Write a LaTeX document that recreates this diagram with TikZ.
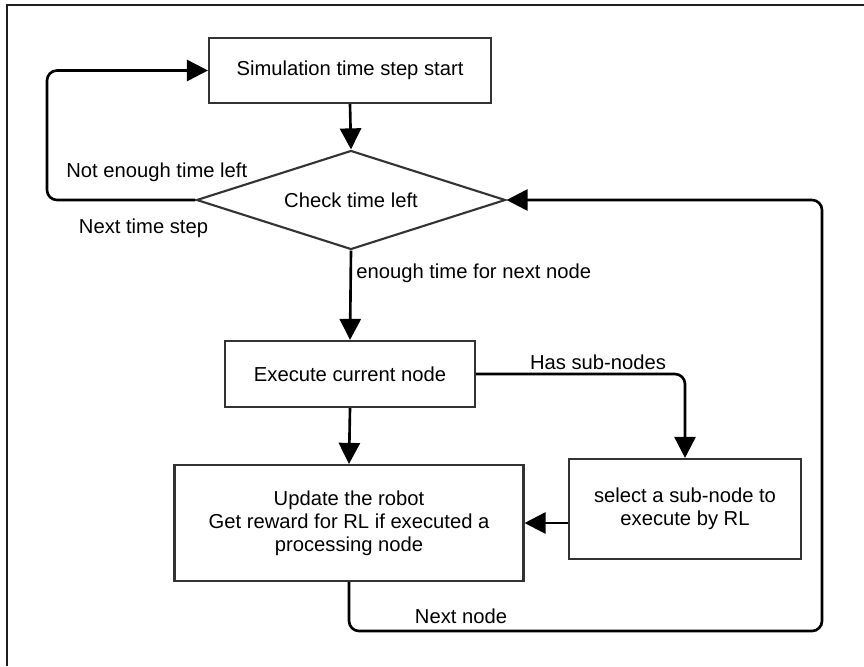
\documentclass[tikz,border=0pt]{standalone}
\usepackage{fontspec}
\setmainfont{Liberation Sans}
\usepackage{tikz}
\usetikzlibrary{shapes.geometric, arrows.meta}
\definecolor{boxgray}{RGB}{51, 51, 51}
\definecolor{framegray}{RGB}{30, 30, 30}
\tikzset{
  stepbox/.style={draw=boxgray, line width=1.2pt, align=center,
                  inner sep=2pt, font=\fontsize{11.5}{13}\selectfont},
  checkbox/.style={diamond, draw=boxgray, line width=1.2pt, aspect=3.1,
                   inner sep=0pt, font=\fontsize{11.5}{13}\selectfont},
  flow/.style={draw=black, line width=1.5pt,
               -{Triangle[length=12pt, width=12pt]}},
  lbl/.style={inner sep=0pt, font=\fontsize{11.5}{13}\selectfont}
}
\begin{document}
\begin{tikzpicture}[x=0.02cm, y=-0.02cm]
    \useasboundingbox (0,0) rectangle (864,666);
    %% outer frame, only top and left edges show
    \draw[framegray, line width=1.1pt] (864,5) -- (7,5) -- (7,666);

    %% flowchart nodes
    \node[stepbox, minimum width=5.64cm, minimum height=1.3cm]
      (start) at (350,70.5) {Simulation time step start};
    \node[checkbox, minimum width=6.18cm, minimum height=1.98cm]
      (check) at (351,200) {Check time left};
    \node[stepbox, minimum width=5cm, minimum height=1.32cm]
      (exec) at (350,374) {Execute current node};
    \node[stepbox, minimum width=6.98cm, minimum height=2.32cm]
      (update) at (349,523) {Update the robot\\Get reward for RL if executed a\\processing node};
    \node[stepbox, minimum width=4.64cm, minimum height=2cm]
      (select) at (685,509) {select a sub-node to\\execute by RL};

    %% rails for the loops
    \coordinate (leftrail) at (47,0);
    \coordinate (rightrail) at (822,631);

    %% connectors
    \draw[flow] (start.south) -- (check.north);
    \draw[flow, rounded corners=0.2cm]
      (check.west) -- (check.west -| leftrail) |- (start.west);
    \draw[flow] (check.south) -- (exec.north);
    \draw[flow, rounded corners=0.2cm] (exec.east) -| (select.north);
    \draw[flow] (exec.south) -- (update.north);
    \draw[flow] (update.east -| select.west) -- (update.east);
    \draw[flow, rounded corners=0.2cm]
      (update.south) |- (rightrail) |- (check.east);

    %% connector labels
    \node[lbl, anchor=west] (notenough) at (66,172) {Not enough time left};
    \node[lbl] (nextstep) at (143.5,228) {Next time step};
    \node[lbl, anchor=west] (enough) at (356,273) {enough time for next node};
    \node[lbl] (hassub) at (598,362) {Has sub-nodes};
    \node[lbl] (nextnode) at (461,616) {Next node};
  \end{tikzpicture}
\end{document}
